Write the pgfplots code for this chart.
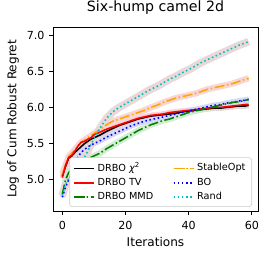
\documentclass[border=0pt]{standalone}
\usepackage{pgfplots}
\usepackage{pgfplotstable}
\pgfplotsset{compat=1.18}
\usepackage{fontspec}
\setmainfont{DejaVu Sans}
\definecolor{colChi}{HTML}{000000}
\definecolor{colRand}{HTML}{00BFBF}
\definecolor{colSO}{HTML}{FFA500}
\definecolor{colMMD}{HTML}{008000}
\definecolor{colBO}{HTML}{0000FF}
\definecolor{colTV}{HTML}{FF0000}
\definecolor{bandc}{HTML}{EAD8D8}
\definecolor{bando}{HTML}{F9D6D6}
\definecolor{bandg}{HTML}{D3EDD3}
\definecolor{bandr}{HTML}{F7D3D3}
\definecolor{bandk}{HTML}{DADADA}
\definecolor{bandb}{HTML}{D8D8F5}
\pgfplotstableread{
it chi tv mmd so bo rand
0 5.05 5.03 4.80 5.08 4.76 4.78
1 5.18 5.20 5.00 5.20 4.90 4.93
2 5.30 5.31 5.10 5.32 5.00 5.02
3 5.33 5.34 5.15 5.37 5.09 5.08
4 5.38 5.40 5.20 5.42 5.22 5.11
5 5.42 5.47 5.24 5.47 5.32 5.14
6 5.46 5.52 5.27 5.52 5.38 5.22
7 5.50 5.53 5.28 5.55 5.42 5.31
8 5.53 5.56 5.29 5.58 5.45 5.39
9 5.56 5.58 5.31 5.61 5.48 5.48
10 5.58 5.62 5.33 5.64 5.50 5.57
12 5.62 5.66 5.37 5.70 5.54 5.72
14 5.67 5.70 5.43 5.76 5.59 5.85
16 5.71 5.73 5.48 5.81 5.63 5.94
18 5.75 5.76 5.53 5.84 5.67 6.00
20 5.78 5.79 5.58 5.87 5.71 6.05
22 5.81 5.82 5.63 5.90 5.75 6.10
24 5.84 5.85 5.68 5.93 5.78 6.15
26 5.86 5.87 5.72 5.96 5.81 6.20
28 5.88 5.89 5.76 6.00 5.83 6.25
30 5.89 5.90 5.79 6.03 5.85 6.29
32 5.90 5.91 5.82 6.07 5.87 6.34
34 5.91 5.93 5.84 6.10 5.89 6.39
36 5.92 5.94 5.87 6.13 5.91 6.43
38 5.94 5.95 5.90 6.15 5.93 6.48
40 5.95 5.96 5.93 6.17 5.95 6.52
42 5.96 5.97 5.95 6.19 5.97 6.57
44 5.97 5.98 5.97 6.22 5.99 6.62
46 5.98 5.99 5.99 6.25 6.01 6.66
48 5.99 6.00 6.01 6.27 6.03 6.70
50 5.99 6.00 6.03 6.29 6.04 6.74
52 6.00 6.01 6.05 6.31 6.06 6.78
54 6.01 6.02 6.07 6.33 6.07 6.82
56 6.02 6.03 6.08 6.36 6.09 6.86
58 6.02 6.04 6.10 6.39 6.10 6.89
59 6.03 6.04 6.11 6.40 6.11 6.91
}\datatable
\begin{document}
\begin{tikzpicture}
\begin{axis}[
  name=ax,
  at={(0,0)}, anchor=south west,
  scale only axis,
  width=147.6pt, height=132.5pt,
  xmin=-2.95, xmax=61.95, ymin=4.57, ymax=7.11,
  xtick={0,20,40,60}, ytick={5.0,5.5,6.0,6.5,7.0},
  yticklabel style={/pgf/number format/.cd, fixed, fixed zerofill, precision=1},
  /pgf/number format/assume math mode=true,
  tick align=outside, tick pos=left,
  major tick length=2.6pt,
  every tick/.style={black, line width=0.6pt},
  axis line style={line width=0.6pt},
  ticklabel style={font=\fontsize{8}{9.6}\selectfont},
  xticklabel style={yshift=-1pt},
  title={Six-hump camel 2d},
  title style={font=\fontsize{10.2}{12}\selectfont, at={(axis description cs:0.5,1.038)}, anchor=base},
  xlabel={Iterations},
  ylabel={Log of Cum Robust Regret},
  label style={font=\fontsize{8.7}{10}\selectfont},
  xlabel style={at={(axis description cs:0.5,-0.168)}, anchor=center},
  ylabel style={at={(axis description cs:-0.195,0.5)}, anchor=center},
  legend columns=2,
  legend cell align=left,
  legend style={at={(axis description cs:0.971,0.022)}, anchor=south east,
    font=\fontsize{7}{8}\selectfont, draw=black!20, rounded corners=2pt,
    fill=white, inner xsep=2.5pt, inner ysep=2pt,
    row sep=0pt,
    nodes={inner xsep=2pt, inner ysep=1.6pt},
    /tikz/every even column/.append style={column sep=12pt}},
  legend image code/.code={%
    \draw[line width=1.13pt,#1] plot coordinates {(0pt,0pt) (7.2pt,0pt) (14.4pt,0pt)};
    \draw[line width=1.13pt,#1] plot coordinates {(0pt,0pt) (7.2pt,0pt) (14.4pt,0pt)};},
  clip=true,
]
% bands
\addplot[bandk, line width=4pt, line join=round, forget plot] table[x=it,y=chi]{\datatable};
\addplot[bandr, line width=4pt, line join=round, forget plot] table[x=it,y=tv]{\datatable};
\addplot[bandg, line width=4.5pt, line join=round, forget plot] table[x=it,y=mmd]{\datatable};
\addplot[bando, line width=4.5pt, line join=round, forget plot] table[x=it,y=so]{\datatable};
\addplot[bandb, line width=4pt, line join=round, forget plot] table[x=it,y=bo]{\datatable};
\addplot[bandc, line width=5.5pt, line join=round, forget plot] table[x=it,y=rand]{\datatable};
% lines, in row-wise legend order
\addplot[draw=colChi, line width=1.13pt] table[x=it,y=chi]{\datatable};
\addlegendentry{DRBO {\itshape χ}\textsuperscript{2}}
\addplot[draw=colSO, line width=1.13pt, dash pattern=on 7.25pt off 1.8pt on 1.13pt off 1.8pt] table[x=it,y=so]{\datatable};
\addlegendentry{StableOpt}
\addplot[draw=colTV, line width=1.13pt] table[x=it,y=tv]{\datatable};
\addlegendentry{DRBO TV}
\addplot[draw=colBO, line width=1.13pt, dash pattern=on 1.13pt off 1.87pt] table[x=it,y=bo]{\datatable};
\addlegendentry{BO}
\addplot[draw=colMMD, line width=1.13pt, dash pattern=on 7.25pt off 1.8pt on 1.13pt off 1.8pt] table[x=it,y=mmd]{\datatable};
\addlegendentry{DRBO MMD}
\addplot[draw=colRand, line width=1.13pt, dash pattern=on 1.13pt off 1.87pt] table[x=it,y=rand]{\datatable};
\addlegendentry{Rand}
\end{axis}
\pgfresetboundingbox
\useasboundingbox ([shift={(-38.16pt,-33.84pt)}]ax.south west) rectangle ([shift={(6.48pt,19.44pt)}]ax.north east);
\end{tikzpicture}
\end{document}
